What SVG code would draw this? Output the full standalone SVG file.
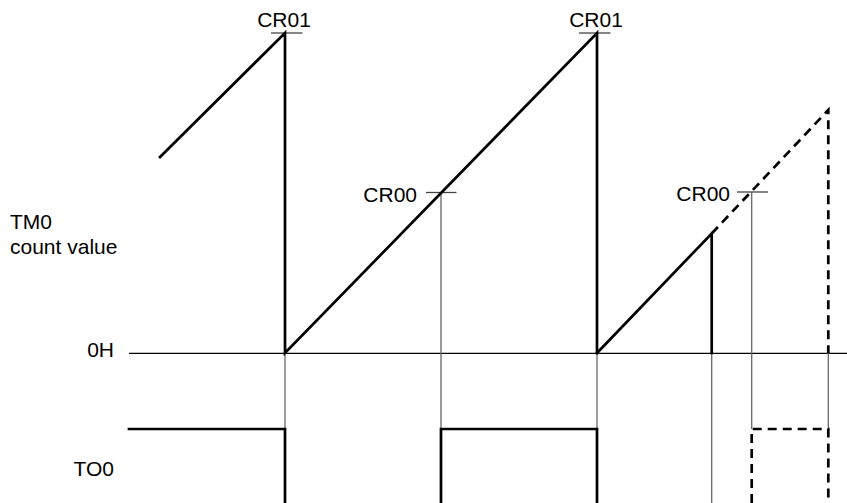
<svg xmlns="http://www.w3.org/2000/svg" width="847" height="503" viewBox="0 0 847 503">
<style>
text{font-family:"Liberation Sans",Arial,sans-serif;font-size:21px;fill:#000}
.thick{stroke:#000;stroke-width:2.7;fill:none;stroke-linecap:square;stroke-linejoin:miter}
.dash{stroke:#000;stroke-width:2.7;fill:none;stroke-dasharray:9 6}
.guide{stroke:#666;stroke-width:1.3;fill:none}
.tick{stroke:#444;stroke-width:1.3;fill:none}
.axis{stroke:#000;stroke-width:1.3;fill:none}
</style>
<rect width="847" height="503" fill="#fff"/>
<g id="labels">
<text x="10" y="229">TM0</text>
<text x="10" y="254">count value</text>
<text x="114" y="357" text-anchor="end">0H</text>
<text x="114" y="476" text-anchor="end">TO0</text>
</g>
<g id="axis">
<line class="axis" x1="129" y1="353.3" x2="847" y2="353.3"/>
</g>
<g id="cr01a">
<line class="tick" x1="271" y1="33" x2="302.5" y2="33"/>
<text x="284" y="27" text-anchor="middle">CR01</text>
</g>
<g id="cr01b">
<line class="tick" x1="579" y1="33" x2="610.5" y2="33"/>
<text x="596" y="27" text-anchor="middle">CR01</text>
</g>
<g id="cr00a">
<line class="tick" x1="426" y1="192.5" x2="456.5" y2="192.5"/>
<text x="417" y="201.5" text-anchor="end">CR00</text>
</g>
<g id="cr00b">
<line class="tick" x1="737" y1="192" x2="768" y2="192"/>
<text x="730" y="201" text-anchor="end">CR00</text>
</g>
<g id="connectors">
<line class="guide" x1="285" y1="353" x2="285" y2="429"/>
<line class="guide" x1="441" y1="192.5" x2="441" y2="429"/>
<line class="guide" x1="597" y1="353" x2="597" y2="429"/>
<line class="guide" x1="711.7" y1="353" x2="711.7" y2="503"/>
<line class="guide" x1="751.7" y1="192" x2="751.7" y2="429"/>
<line class="guide" x1="828.3" y1="353" x2="828.3" y2="429"/>
<polyline class="thick" points="160,157 285,33 285,353 597,33 597,353"/>
<polyline class="thick" points="597,353 711.7,233.5 711.7,353"/>
<polyline class="dash" points="711.7,233.5 828.3,110 828.3,353"/>
<polyline class="thick" points="129,429 285,429 285,503"/>
<polyline class="thick" points="441,503 441,429 597,429 597,503"/>
<polyline class="dash" points="751.7,503 751.7,429 828.3,429 828.3,503"/>
</g>
</svg>
